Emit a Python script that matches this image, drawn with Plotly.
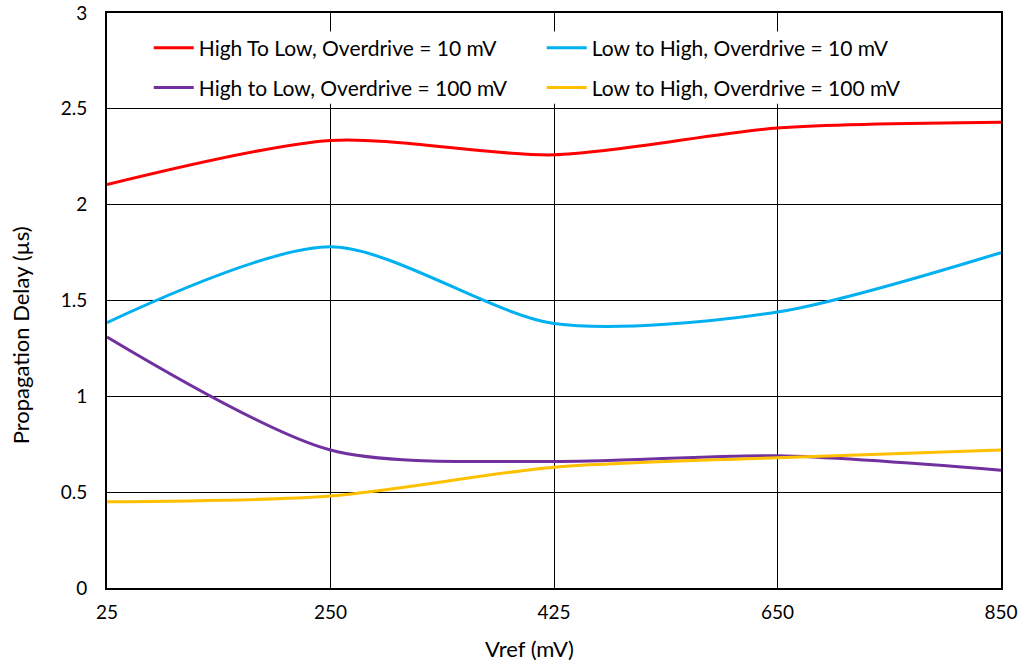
import plotly.graph_objects as go

vref = ["25", "250", "425", "650", "850"]
hl_10 = [2.105, 2.335, 2.26, 2.40, 2.43]
lh_10 = [1.385, 1.78, 1.38, 1.44, 1.75]
hl_100 = [1.31, 0.72, 0.66, 0.69, 0.615]
lh_100 = [0.45, 0.48, 0.63, 0.68, 0.72]

series = [
    ("High To Low, Overdrive = 10 mV", hl_10, "#FF0000", "legend"),
    ("Low to High, Overdrive = 10 mV", lh_10, "#00B0F0", "legend"),
    ("High to Low, Overdrive = 100 mV", hl_100, "#7030A0", "legend2"),
    ("Low to High, Overdrive = 100 mV", lh_100, "#FFC000", "legend2"),
]

FONT = "Lato"
fig = go.Figure()
for name, vals, col, lg in series:
    fig.add_trace(go.Scatter(x=vref, y=vals, name=name, mode="lines", legend=lg,
                             line=dict(color=col, width=3, shape="spline", smoothing=0.8)))

leg_common = dict(orientation="h", x=0.0467, xanchor="left", yanchor="middle",
                  entrywidth=338, bgcolor="rgba(0,0,0,0)", font=dict(size=21, family=FONT),
                  itemwidth=40)

fig.update_layout(
    width=1021, height=665,
    margin=dict(l=107, r=20, t=13, b=77),
    paper_bgcolor="white", plot_bgcolor="white",
    font=dict(family=FONT, size=19, color="black"),
    showlegend=True,
    legend=dict(y=0.939, **leg_common),
    legend2=dict(y=0.870, **leg_common),
    shapes=[dict(type="rect", xref="paper", yref="paper", x0=0.015, x1=0.985, y0=0.842, y1=0.968,
                 fillcolor="white", line=dict(width=0), layer="above")],
    xaxis=dict(type="category", range=[0, 4], showgrid=True, gridcolor="black", gridwidth=1.3,
               showline=True, linecolor="black", linewidth=2, mirror=True, automargin=False,
               ticks="", tickfont=dict(size=19), zeroline=False, ticklabelstandoff=6),
    yaxis=dict(range=[0, 3], dtick=0.5, showgrid=True, gridcolor="black", gridwidth=1.3,
               showline=True, linecolor="black", linewidth=2, mirror=True, automargin=False,
               ticks="", tickfont=dict(size=19), zeroline=False, ticklabelstandoff=14),
    annotations=[
        dict(text="Vref (mV)", xref="paper", yref="paper", x=0.473, y=-0.105, xanchor="center",
             yanchor="middle", showarrow=False, font=dict(size=22)),
        dict(text="Propagation Delay (µs)", xref="paper", yref="paper", x=-0.097, y=0.44,
             xanchor="center", yanchor="middle", showarrow=False, textangle=-90,
             font=dict(size=22)),
    ],
)
fig.write_html("out.html", post_script="document.body.style.margin='0px';",
               config={"displayModeBar": False})
